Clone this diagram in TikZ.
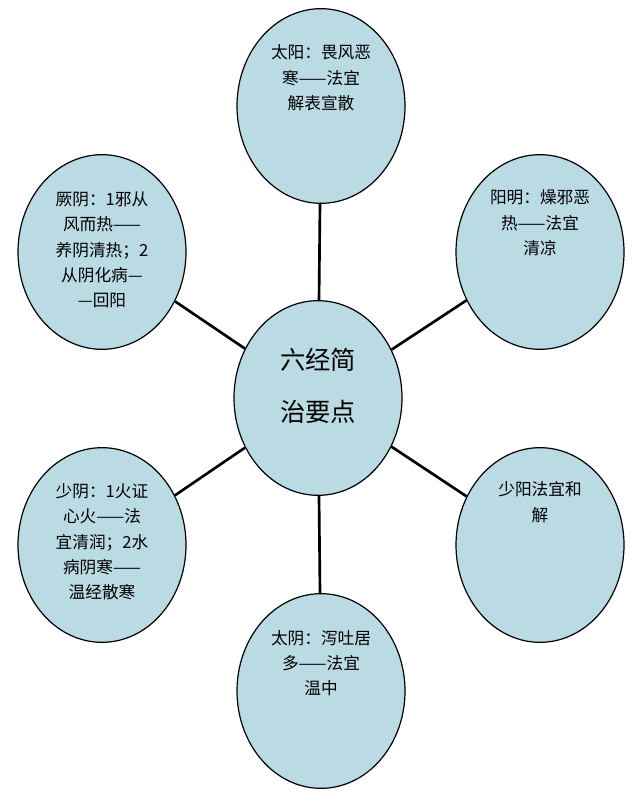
\documentclass[tikz,border=0pt]{standalone}
\usepackage{fontspec}
\setmainfont{Liberation Serif}
\newfontfamily\cjk{Noto Sans CJK SC}[BoldFont=* Bold]
\usetikzlibrary{shapes.geometric,positioning}
\definecolor{bubble}{RGB}{186,218,228}
\tikzset{
  jing/.style={ellipse,draw,line width=0.9pt,fill=bubble,minimum width=126pt,minimum height=146pt,inner sep=0pt},
  txt/.style={align=center,font=\cjk\fontsize{12.5}{19}\selectfont,inner sep=0pt},
  link/.style={line width=2pt}
}
\begin{document}
\begin{tikzpicture}[x=0.75pt,y=-0.75pt]
  \useasboundingbox (0,0) rectangle (640,809);
  \node[jing] (C) at (318,398) {};
  \node[jing] (TY) at (321,106) {};
  \node[jing] (YM) at (540,252) {};
  \node[jing] (JY) at (102,252) {};
  \node[jing] (SY) at (102,545) {};
  \node[jing] (SHY) at (540,545) {};
  \node[jing] (TAY) at (321,691) {};
  % spokes
  \foreach \n in {TY,YM,JY,SY,SHY,TAY}
    \draw[link] (C) -- (\n);
  \node[align=center,font=\cjk\fontsize{19}{39}\selectfont,inner sep=0pt] (Ct) at (318,386) {六经简\\治要点};
  \node[txt] (TYt) at (321,78) {太阳：畏风恶\\寒——法宜\\解表宣散};
  \node[txt] (YMt) at (540,223) {阳明：燥邪恶\\热——法宜\\清凉};
  \node[txt] (JYt) at (102,250) {厥阴：1邪从\\风而热——\\养阴清热；2\\从阴化病—\\—回阳};
  \node[txt] (SYt) at (102,542) {少阴：1火证\\心火——法\\宜清润；2水\\病阴寒——\\温经散寒};
  \node[txt] (SHYt) at (540,502) {少阳法宜和\\解};
  \node[txt] (TAYt) at (321,663) {太阴：泻吐居\\多——法宜\\温中};
\end{tikzpicture}
\end{document}
